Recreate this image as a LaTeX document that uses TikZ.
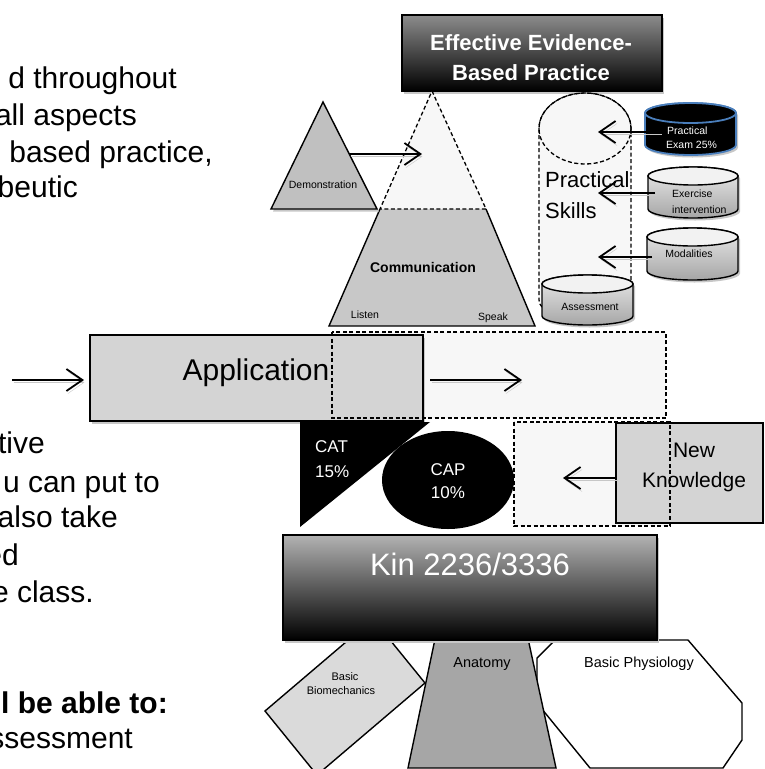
\documentclass[tikz,border=0pt]{standalone}
\usepackage{fontspec}
\setmainfont{Liberation Sans}
\usetikzlibrary{arrows.meta,shadows}
\definecolor{dashfill}{HTML}{F7F7F7}
\definecolor{boxgray}{HTML}{D4D4D4}
\definecolor{demogray}{HTML}{C0C0C0}
\definecolor{commgray}{HTML}{C8C8C8}
\definecolor{anatgray}{HTML}{A6A6A6}
\definecolor{biogray}{HTML}{DADADA}
\definecolor{exblue}{HTML}{4A7EBB}
\newcommand\mycyl[7]{%
  \pgfmathsetmacro\cylrx{(#2-#1)/2}%
  \pgfmathsetmacro\cylcx{(#1+#2)/2}%
  \path[#6] (#1,#3+#5) -- (#1,#4-#5) arc[start angle=180,end angle=360,x radius=\cylrx pt,y radius=#5pt] -- (#2,#3+#5) arc[start angle=0,end angle=180,x radius=\cylrx pt,y radius=#5pt] -- cycle;
  \path[#7] (\cylcx,#3+#5) ellipse[x radius=\cylrx pt,y radius=#5pt];
}
\begin{document}
\begin{tikzpicture}[x=1pt,y=-1pt,
  shapeline/.style={draw=black,line width=1.4pt},
  dashline/.style={draw=black,line width=1.3pt,dash pattern=on 4pt off 2.5pt},
  shad/.style={drop shadow={shadow xshift=2pt,shadow yshift=-2.5pt,fill=black!22,opacity=1}},
  arr/.style={line width=1.8pt,-{Straight Barb[length=16pt,width=22pt,line width=1.8pt]},
    preaction={draw=black!22,transform canvas={xshift=1.5pt,yshift=-2.5pt}}},
  bodytext/.style={font=\fontsize{30}{36}\selectfont,anchor=base east,inner sep=0pt},
  lbl/.style={inner sep=0pt,anchor=base},
  exbody/.style={fill=black,draw=exblue,line width=1.8pt,shad},
  extop/.style={fill=black,draw=exblue,line width=1.8pt},
  graybody/.style={top color=black!8,bottom color=black!35,draw=black,line width=1.4pt,shad},
  graytop/.style={fill=black!5,draw=black,line width=1.4pt},
]
\useasboundingbox (0,0) rectangle (765,769);
\clip (0,0) rectangle (765,769);

% ---------- left body text ----------
\node[bodytext] (t1) at (177,88) {d throughout};
\node[bodytext] (t2) at (137,125) {all aspects};
\node[bodytext] (t3) at (213,162) {based practice,};
\node[bodytext] (t4) at (78,197) {beutic};
\node[bodytext] (t5) at (45,453) {tive};
\node[bodytext] (t6) at (160,492) {u can put to};
\node[bodytext] (t7) at (118,527) {also take};
\node[bodytext] (t8) at (19,565) {ed};
\node[bodytext] (t9) at (94,602) {e class.};
\node[bodytext,font=\fontsize{30}{36}\selectfont\bfseries] (t10) at (168,713) {l be able to:};
\node[bodytext] (t11) at (133,748) {ssessment};

% ---------- bottom shapes ----------
\draw[shapeline,fill=biogray] (373,619) -- (425,683) -- (317,775) -- (265,711) -- cycle;
\draw[shapeline,fill=white] (555,640) -- (688,640) -- (742,703) -- (742,740) -- (723,768) -- (590,768) -- (537,703) -- (537,658) -- cycle;
\draw[shapeline,fill=anatgray] (439,620) -- (524,620) -- (556,768) -- (408,768) -- cycle;
\node[lbl,font=\fontsize{11}{13}\selectfont] (bio1) at (345,680) {Basic};
\node[lbl,font=\fontsize{11}{13}\selectfont] (bio2) at (341,694) {Biomechanics};
\node[lbl,font=\fontsize{14.5}{17}\selectfont] (anat) at (482,667) {Anatomy};
\node[lbl,font=\fontsize{14.5}{17}\selectfont] (phys) at (639,667) {Basic Physiology};

% ---------- Kin box ----------
\node[draw=black,line width=1.4pt,top color=black!30,bottom color=black,minimum width=374pt,minimum height=105pt,inner sep=0pt,shad] (kin) at (470,587.5) {};
\node[lbl,font=\fontsize{31}{36}\selectfont,text=white] (kintext) at (470,575) {Kin 2236/3336};

% ---------- top box ----------
\node[draw=black,line width=1.4pt,top color=black!45,bottom color=black,minimum width=260pt,minimum height=76pt,inner sep=0pt,shad] (ebp) at (532,53) {};
\node[lbl,font=\fontsize{22}{26}\selectfont\bfseries,text=white] (ebp1) at (531,50) {Effective Evidence-};
\node[lbl,font=\fontsize{22}{26}\selectfont\bfseries,text=white] (ebp2) at (531,80) {Based Practice};

% ---------- communication pyramid ----------
\fill[commgray] (380,209) -- (486,209) -- (535,326) -- (329,326) -- cycle;
\draw[shapeline] (380,209) -- (329,326) -- (535,326) -- (486,209);
\path[dashline,fill=dashfill] (432,91) -- (486,209) -- (380,209) -- cycle;
\node[lbl,font=\fontsize{14}{17}\selectfont\bfseries] (comm) at (423,272) {Communication};
\node[lbl,font=\fontsize{10.5}{12}\selectfont] (listen) at (365,318) {Listen};
\node[lbl,font=\fontsize{10.5}{12}\selectfont] (speak) at (493,320) {Speak};

% ---------- demonstration ----------
\draw[shapeline,fill=demogray,shad] (323,102) -- (377,209) -- (271,209) -- cycle;
\node[lbl,font=\fontsize{10.5}{12}\selectfont] (demo) at (323,188) {Demonstration};
\coordinate (demoS) at (349,154);
\coordinate (demoT) at (422,154);
\draw[arr] (demoS) -- (demoT);

% ---------- practical skills ----------
\path[dashline,fill=dashfill] (539,128.5) -- (539,300) arc[start angle=180,end angle=360,x radius=46pt,y radius=20pt] -- (631,128.5) arc[start angle=0,end angle=180,x radius=46pt,y radius=35.5pt] -- cycle;
\draw[dashline] (585,128.5) ellipse[x radius=46pt,y radius=35.5pt];
\node[lbl,anchor=base west,font=\fontsize{22}{26}\selectfont] (ps1) at (545,187) {Practical};
\node[lbl,anchor=base west,font=\fontsize{22}{26}\selectfont] (ps2) at (545,218) {Skills};

% ---------- cylinders ----------
\mycyl{645}{736}{103}{155}{10}{exbody}{extop}
\mycyl{648}{738}{167}{218}{9}{graybody}{graytop}
\mycyl{647}{738}{228}{280}{9}{graybody}{graytop}
\mycyl{542}{633}{275}{325}{9}{graybody}{graytop}
\node[lbl,anchor=base west,font=\fontsize{10.5}{12}\selectfont,text=white] (ex1) at (667,134) {Practical};
\node[lbl,anchor=base west,font=\fontsize{10.5}{12}\selectfont,text=white] (ex2) at (666,148) {Exam 25\%};
\node[lbl,anchor=base west,font=\fontsize{10.5}{12}\selectfont] (ei1) at (672,197) {Exercise};
\node[lbl,anchor=base west,font=\fontsize{10.5}{12}\selectfont] (ei2) at (672,213) {intervention};
\node[lbl,font=\fontsize{10.5}{12}\selectfont] (mod) at (689,257) {Modalities};
\node[lbl,font=\fontsize{10.5}{12}\selectfont] (asm) at (590,310) {Assessment};

\coordinate (exS) at (660,132);  \coordinate (exT) at (598,132);
\coordinate (eiS) at (655,193);  \coordinate (eiT) at (598,193);
\coordinate (moS) at (652,257);  \coordinate (moT) at (598,257);
\draw[arr] (exS) -- (exT);
\draw[arr] (eiS) -- (eiT);
\draw[arr] (moS) -- (moT);

% ---------- application ----------
\path[fill=dashfill] (332,332) rectangle (666,418);
\node[draw=black,line width=1.4pt,fill=boxgray,minimum width=333pt,minimum height=86pt,inner sep=0pt,shad] (app) at (256.5,378) {};
\draw[dashline] (332,332) rectangle (666,418);
\node[lbl,font=\fontsize{30}{36}\selectfont] (apptext) at (256,380) {Application};
\coordinate (leftS) at (12,380);
\coordinate (leftT) at (84,380);
\draw[arr] (leftS) -- (leftT);
\coordinate (appS) at (430,380);
\coordinate (appT) at (522,380);
\draw[arr] (appS) -- (appT);

% ---------- CAT / CAP ----------
\fill[black] (300,422) -- (430,422) -- (300,527) -- cycle;
\node[lbl,anchor=base west,font=\fontsize{17}{20}\selectfont,text=white] (cat1) at (315,452) {CAT};
\node[lbl,anchor=base west,font=\fontsize{17}{20}\selectfont,text=white] (cat2) at (315,477) {15\%};
\fill[black] (448,480) ellipse[x radius=66pt,y radius=49pt];
\node[lbl,font=\fontsize{17}{20}\selectfont,text=white] (cap1) at (448,475) {CAP};
\node[lbl,font=\fontsize{17}{20}\selectfont,text=white] (cap2) at (448,498) {10\%};

% ---------- new knowledge ----------
\path[fill=dashfill] (514,422) rectangle (670,526);
\node[draw=black,line width=1.4pt,fill=boxgray,minimum width=147pt,minimum height=100pt,inner sep=0pt] (nk) at (689.5,473) {};
\draw[dashline] (514,422) rectangle (670,526);
\node[lbl,font=\fontsize{21}{25}\selectfont] (nk1) at (694,457) {New};
\node[lbl,font=\fontsize{21}{25}\selectfont] (nk2) at (694,487) {Knowledge};
\coordinate (nkS) at (616,478);
\coordinate (nkT) at (563,478);
\draw[arr] (nkS) -- (nkT);
\end{tikzpicture}
\end{document}
